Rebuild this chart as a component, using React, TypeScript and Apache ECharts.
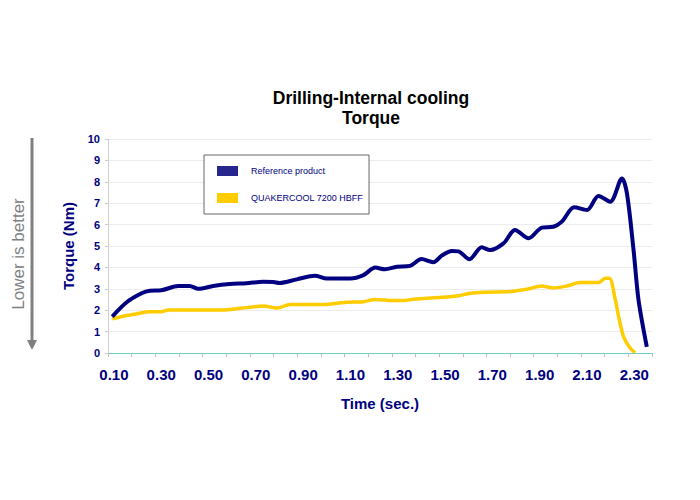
import React, { useEffect, useRef } from "react";
import * as echarts from "echarts";

const titleText = "Drilling-Internal cooling\nTorque";
const seriesNames = ["Reference product", "QUAKERCOOL 7200 HBFF"];
const xLabelValues = [0.1, 0.3, 0.5, 0.7, 0.9, 1.1, 1.3, 1.5, 1.7, 1.9, 2.1, 2.3];

const refTime = [0.093, 0.154, 0.217, 0.252, 0.3, 0.372, 0.42, 0.457, 0.52, 0.59, 0.66, 0.73, 0.774, 0.8, 0.873, 0.95, 1.0, 1.1, 1.155, 1.205, 1.246, 1.296, 1.352, 1.4, 1.45, 1.486, 1.529, 1.557, 1.603, 1.655, 1.69, 1.747, 1.796, 1.853, 1.909, 1.958, 1.994, 2.046, 2.1, 2.149, 2.198, 2.248, 2.269, 2.297, 2.318, 2.353];
const refTorque = [1.7, 2.37, 2.79, 2.91, 2.93, 3.13, 3.13, 3.0, 3.13, 3.22, 3.26, 3.33, 3.32, 3.27, 3.44, 3.61, 3.48, 3.48, 3.64, 3.99, 3.91, 4.03, 4.07, 4.39, 4.24, 4.55, 4.77, 4.75, 4.38, 4.94, 4.81, 5.12, 5.75, 5.36, 5.86, 5.9, 6.14, 6.81, 6.68, 7.34, 7.07, 8.16, 7.46, 4.81, 2.48, 0.29];

const qcTime = [0.093, 0.154, 0.196, 0.252, 0.3, 0.33, 0.55, 0.66, 0.73, 0.79, 0.845, 0.985, 1.084, 1.155, 1.205, 1.28, 1.324, 1.366, 1.55, 1.606, 1.677, 1.775, 1.846, 1.909, 1.958, 2.015, 2.071, 2.149, 2.177, 2.195, 2.22, 2.234, 2.255, 2.283, 2.304];
const qcTorque = [1.6, 1.75, 1.83, 1.93, 1.93, 2.01, 2.01, 2.12, 2.2, 2.1, 2.27, 2.27, 2.37, 2.4, 2.5, 2.45, 2.45, 2.51, 2.66, 2.79, 2.84, 2.87, 2.98, 3.13, 3.04, 3.13, 3.29, 3.29, 3.49, 3.49, 2.48, 1.7, 0.76, 0.22, 0.02];

const NAVY = "#000080";
const YELLOW = "#ffcc00";
const FONT = "'Liberation Sans', Arial, sans-serif";

const X_MIN = 0.075;
const X_MAX = 2.375;
const X_TICK_STEP = 0.1;

export default function App() {
  const ref = useRef<HTMLDivElement>(null);
  useEffect(() => {
    if (!ref.current) return;
    const chart = echarts.init(ref.current, null, { renderer: "svg" });
    const tickValues: number[] = [];
    for (let v = X_MIN; v <= X_MAX + 1e-9; v += X_TICK_STEP) tickValues.push(Math.round(v * 1000) / 1000);

    const refData = refTime.map((t, i) => [t, refTorque[i]]);
    const qcData = qcTime.map((t, i) => [t, qcTorque[i]]);

    chart.setOption({
      animation: false,
      backgroundColor: "#ffffff",
      textStyle: { fontFamily: FONT },
      grid: { left: 108, right: 48, top: 139, bottom: 147, containLabel: false },
      legend: {
        orient: "vertical",
        left: 204,
        top: 155,
        padding: [11, 6, 11, 13],
        itemGap: 17,
        itemWidth: 21,
        itemHeight: 10,
        borderColor: "#666666",
        borderWidth: 1,
        backgroundColor: "#ffffff",
        textStyle: { color: NAVY, fontSize: 9, fontFamily: FONT, padding: [0, 0, 0, 8] },
        data: [
          { name: seriesNames[0], icon: "rect", itemStyle: { color: "#26268c" } },
          { name: seriesNames[1], icon: "rect", itemStyle: { color: YELLOW } },
        ],
      },
      xAxis: {
        type: "value",
        min: X_MIN,
        max: X_MAX,
        name: "Time (sec.)",
        nameLocation: "middle",
        nameGap: 43,
        nameTextStyle: { color: NAVY, fontWeight: "bold", fontSize: 15, fontFamily: FONT },
        axisLine: { show: true, onZero: false, lineStyle: { color: "#66cccc", width: 1 } },
        axisTick: { show: true, length: 4, customValues: tickValues, lineStyle: { color: "#bbbbbb" } },
        axisLabel: {
          customValues: xLabelValues,
          formatter: (v: number) => v.toFixed(2),
          color: NAVY,
          fontWeight: "bold",
          fontSize: 15,
          margin: 14,
          fontFamily: FONT,
        },
        splitLine: { show: false },
      },
      yAxis: {
        type: "value",
        min: 0,
        max: 10,
        interval: 1,
        name: "Torque (Nm)",
        nameLocation: "middle",
        nameGap: 32,
        nameTextStyle: { color: NAVY, fontWeight: "bold", fontSize: 15, fontFamily: FONT },
        axisLine: { show: true, lineStyle: { color: "#d0d0d0" } },
        axisTick: { show: true, length: 3, lineStyle: { color: "#cccccc" } },
        axisLabel: { color: NAVY, fontWeight: "bold", fontSize: 11, margin: 8, fontFamily: FONT },
        splitLine: { show: true, lineStyle: { color: "#ececec" } },
      },
      series: [
        {
          name: seriesNames[0],
          type: "line",
          data: refData,
          showSymbol: false,
          smooth: 0.3,
          lineStyle: { color: NAVY, width: 4 },
          itemStyle: { color: NAVY },
          z: 3,
        },
        {
          name: seriesNames[1],
          type: "line",
          data: qcData,
          showSymbol: false,
          smooth: 0.3,
          lineStyle: { color: YELLOW, width: 3.5 },
          itemStyle: { color: YELLOW },
          z: 2,
        },
      ],
      graphic: [
        {
          type: "text",
          x: 371,
          y: 108,
          style: {
            text: titleText,
            align: "center",
            verticalAlign: "middle",
            font: `bold 17.5px ${FONT}`,
            fill: "#000000",
            lineHeight: 20,
          },
        },
        {
          type: "text",
          x: 18,
          y: 254,
          rotation: Math.PI / 2,
          style: {
            text: "Lower is better",
            align: "center",
            verticalAlign: "middle",
            font: `17px ${FONT}`,
            fill: "#808080",
          },
        },
        {
          type: "line",
          shape: { x1: 32, y1: 138, x2: 32, y2: 342 },
          style: { stroke: "#808080", lineWidth: 3 },
        },
        {
          type: "polygon",
          shape: { points: [[27, 340], [37, 340], [32, 350]] },
          style: { fill: "#808080" },
        },
      ],
    });
    return () => chart.dispose();
  }, []);
  return <div ref={ref} style={{ position: "fixed", left: 0, top: 0, width: 700, height: 500 }} />;
}
